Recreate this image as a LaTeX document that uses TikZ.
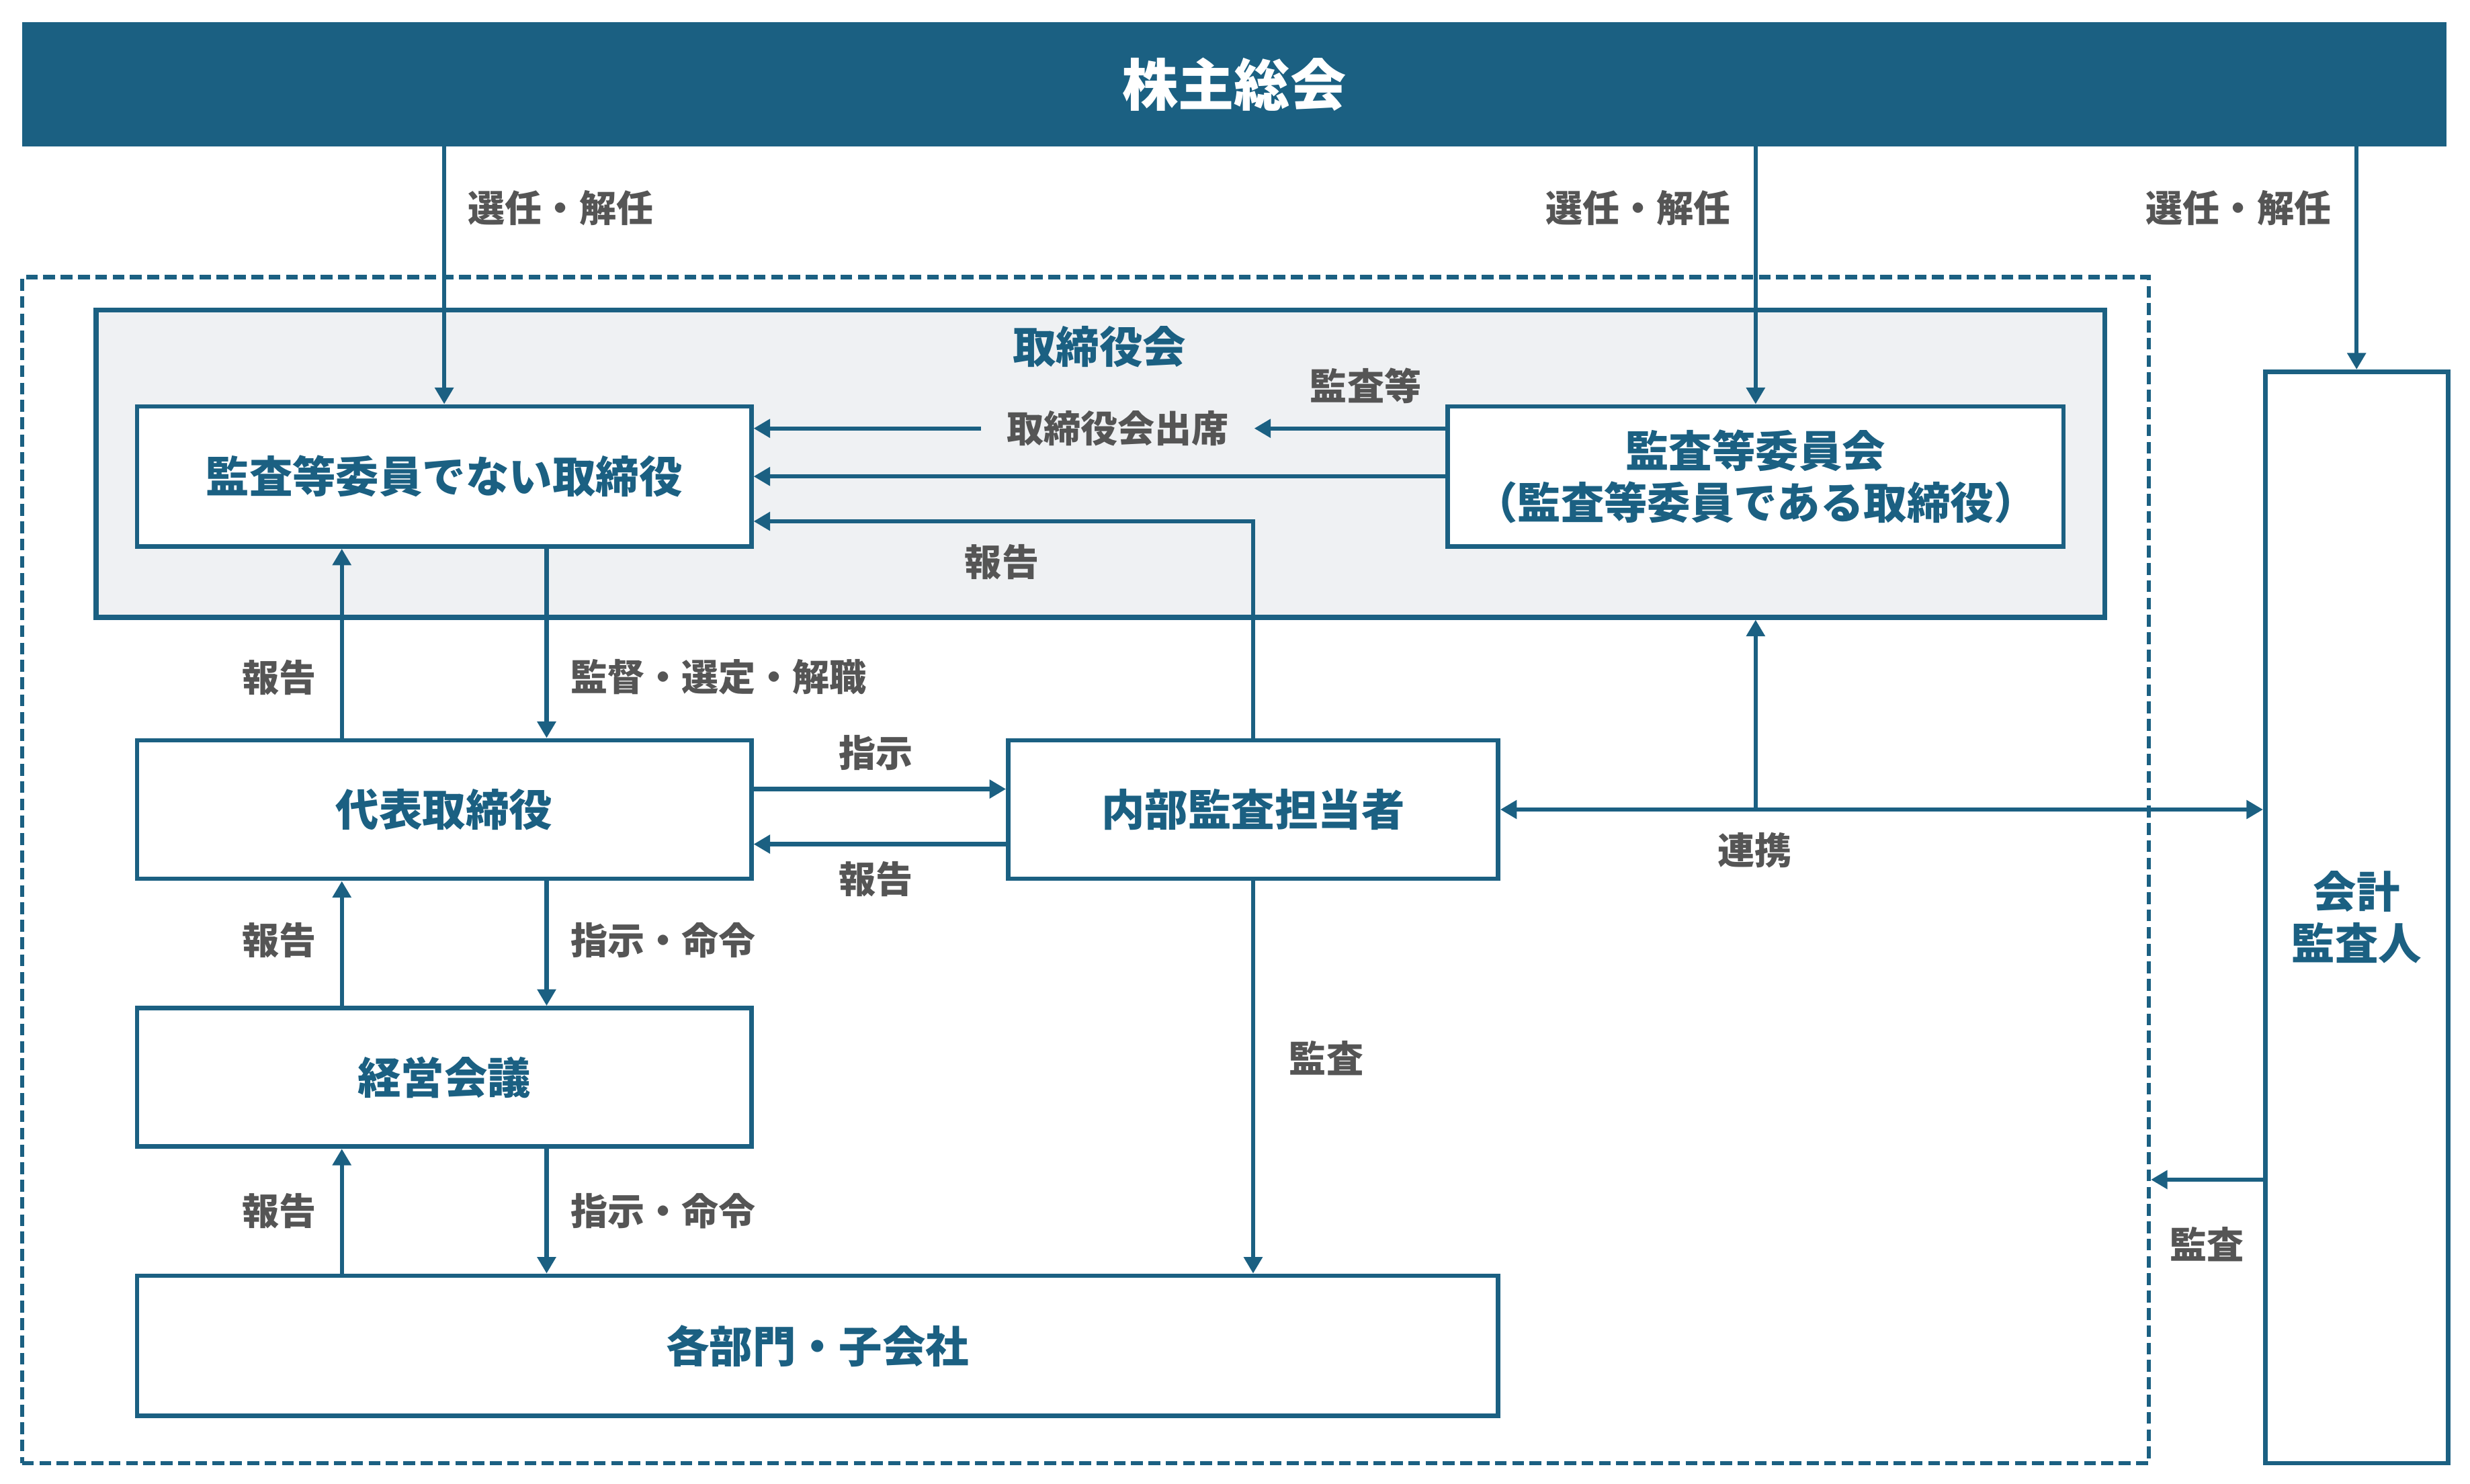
\documentclass[tikz,border=0pt]{standalone}
\usepackage{fontspec}
\setmainfont{Noto Sans CJK JP}
\usepackage{tikz}
\usetikzlibrary{arrows.meta}

\definecolor{kteal}{HTML}{1B6082}
\definecolor{lblgray}{HTML}{555555}
\definecolor{boardgray}{HTML}{EFF1F3}

\newcommand{\boxfont}{\fontsize{27.5}{33}\selectfont\bfseries}
\newcommand{\lblfont}{\fontsize{23.5}{28}\selectfont\bfseries}

\tikzstyle{banner} = [fill=kteal, text=white, inner sep=0pt, font=\fontsize{35.5}{40}\selectfont\bfseries]
\tikzstyle{group} = [draw=kteal, line width=2.8pt, dash pattern=on 7.5pt off 3.5pt, inner sep=0pt]
\tikzstyle{board} = [draw=kteal, line width=3pt, fill=boardgray, inner sep=0pt]
\tikzstyle{box} = [draw=kteal, line width=2.8pt, fill=white, text=kteal, inner sep=0pt, font=\boxfont]
\tikzstyle{lbl} = [text=lblgray, inner sep=0pt, font=\lblfont]
\tikzstyle{arr} = [draw=kteal, line width=2.7pt, -{Triangle[length=10.5pt,width=11.5pt]}]

\begin{document}
\begin{tikzpicture} [x=1pt,y=-1pt]

		\useasboundingbox (0,0) rectangle (1568,942);

		\node [banner, minimum width=1539pt, minimum height=79pt] (soukai) at (783.5,53.5) {株主総会};

		\node [group, minimum width=1350pt, minimum height=753pt] (shanai) at (689,552.5) {};
		\node [board, minimum width=1275pt, minimum height=195pt] (torikai) at (698.5,294.5) {};
		\node [text=kteal, inner sep=0pt, font=\boxfont] (torikaimei) at (698,220) {取締役会};

		\node [box, minimum width=390pt, minimum height=89pt] (hiiin) at (282,302.5) {監査等委員でない取締役};
		\node [box, minimum width=391pt, minimum height=89pt, align=center] (kiin) at (1114.5,302.5) {監査等委員会\\（監査等委員である取締役）};
		\node [box, minimum width=390pt, minimum height=88pt] (daihyo) at (282,514) {代表取締役};
		\node [box, minimum width=311pt, minimum height=88pt] (naibu) at (795.5,514) {内部監査担当者};
		\node [box, minimum width=390pt, minimum height=88pt] (keiei) at (282,684) {経営会議};
		\node [box, minimum width=864pt, minimum height=89pt] (kakubu) at (519,854.5) {各部門・子会社};
		\node [box, minimum width=116pt, minimum height=693pt, align=center] (kaikei) at (1496,582.5) {会計\\監査人};

		% 選任・解任
		\foreach \n in {hiiin, kiin, kaikei}
			\draw [arr] (\n.north |- soukai.south) -- (\n.north);
		\node [lbl, anchor=west] (senin1) at (297,132) {選任・解任};
		\node [lbl, anchor=east] (senin2) at (1099,132) {選任・解任};
		\node [lbl, anchor=east] (senin3) at (1480,132) {選任・解任};

		% 取締役会の中
		\node [lbl, inner xsep=16pt] (shusseki) at (709.5,272) {取締役会出席};
		\draw [arr] (kiin.west |- shusseki.east) -- (shusseki.east);
		\draw [arr] (shusseki.west) -- (hiiin.east |- shusseki.west);
		\node [lbl] (kansatou) at (867,245) {監査等};
		\draw [arr] (kiin.west) -- (hiiin.east);
		\draw [arr] (naibu.north) |- ([yshift=-28.5pt]hiiin.east);
		\node [lbl] (houkoku0) at (636,357) {報告};

		% 上下の報告と指示
		\foreach \hi/\lo in {hiiin/daihyo, daihyo/keiei, keiei/kakubu} {
			\draw [arr] ([xshift=-65pt]\hi.south |- \lo.north) -- ([xshift=-65pt]\hi.south);
			\draw [arr] ([xshift=65pt]\hi.south) -- ([xshift=65pt]\hi.south |- \lo.north);
		}
		\node [lbl, anchor=east] (houkoku1) at (201,430) {報告};
		\node [lbl, anchor=east] (houkoku2) at (201,597) {報告};
		\node [lbl, anchor=east] (houkoku3) at (201,769) {報告};
		\node [lbl, anchor=west] (kantoku) at (362,430) {監督・選定・解職};
		\node [lbl, anchor=west] (meirei1) at (362,597) {指示・命令};
		\node [lbl, anchor=west] (meirei2) at (362,769) {指示・命令};

		% 内部監査担当者
		\draw [arr] ([yshift=13pt]daihyo.east) -- ([yshift=13pt]naibu.west);
		\draw [arr] ([yshift=-22pt]naibu.west) -- ([yshift=-22pt]daihyo.east);
		\node [lbl] (shiji) at (556,478) {指示};
		\node [lbl] (houkoku4) at (556,558) {報告};
		\draw [arr] (naibu.south) -- (naibu.south |- kakubu.north);
		\node [lbl] (kansa1) at (842,672) {監査};

		% 連携
		\draw [arr, {Triangle[length=10.5pt,width=11.5pt]}-{Triangle[length=10.5pt,width=11.5pt]}] (naibu.east) -- (kaikei.west |- naibu.east);
		\coordinate (renkeiten) at (kiin.south |- naibu.east);
		\draw [arr] (renkeiten) -- (kiin.south |- torikai.south);
		\node [lbl] (renkei) at (1114,540) {連携};

		% 会計監査人の監査
		\draw [arr] (kaikei.west |- 0,749) -- (shanai.east |- 0,749);
		\node [lbl] (kansa2) at (1401,790) {監査};

\end{tikzpicture}
\end{document}
